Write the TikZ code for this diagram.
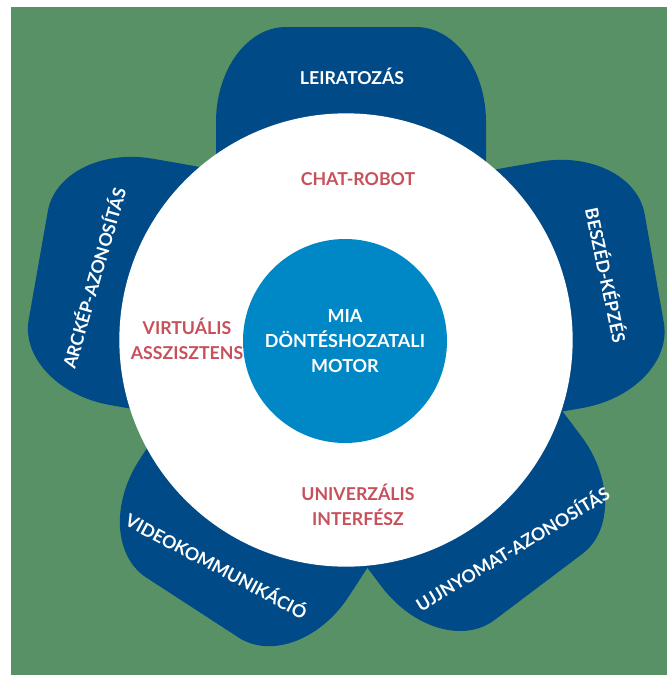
\documentclass[tikz,border=0pt]{standalone}
\usepackage{fontspec}
\setmainfont{Lato}
\definecolor{bggreen}{RGB}{89,145,102}
\definecolor{petalblue}{RGB}{0,74,135}
\definecolor{coreblue}{RGB}{0,136,198}
\definecolor{ringred}{RGB}{200,80,90}

\tikzset{every picture/.style={line width=0.75pt}}
\tikzset{
  petal/.style={fill=petalblue, draw=none},
  petallabel/.style={text=white, inner sep=0.75pt, font=\bfseries\fontsize{13.3}{18.75}\selectfont},
  ringlabel/.style={text=ringred, inner sep=0.75pt, align=center, font=\bfseries\fontsize{13.3}{18.75}\selectfont},
}

\begin{document}
\begin{tikzpicture}[x=0.75pt,y=0.75pt,yscale=-1,xscale=1]
	\useasboundingbox (0,0) rectangle (667,675);
	
	%Background
	\fill[bggreen] (11,7) rectangle (667,675);
	
	%Petal: top
	\begin{scope}[shift={(346,340)}, rotate=-90]
		\fill[petal] (0,-130) -- (218,-130) arc[start angle=-90, end angle=0, x radius=95, y radius=70]
			-- (313,70) arc[start angle=0, end angle=90, x radius=95, y radius=70] -- (0,140) -- cycle;
	\end{scope}
	%Petal: right
	\begin{scope}[shift={(346,340)}, rotate=-10]
		\fill[petal] (0,-142) -- (221,-142) arc[start angle=-90, end angle=0, x radius=95, y radius=70]
			-- (316,38) arc[start angle=0, end angle=90, x radius=95, y radius=70] -- (0,108) -- cycle;
	\end{scope}
	%Petal: bottom right
	\begin{scope}[shift={(346,340)}, rotate=53]
		\fill[petal] (0,-130) -- (218,-130) arc[start angle=-90, end angle=0, x radius=95, y radius=70]
			-- (313,50) arc[start angle=0, end angle=90, x radius=95, y radius=70] -- (0,120) -- cycle;
	\end{scope}
	%Petal: bottom left
	\begin{scope}[shift={(346,340)}, rotate=123]
		\fill[petal] (0,-142) -- (213,-142) arc[start angle=-90, end angle=0, x radius=95, y radius=70]
			-- (308,38) arc[start angle=0, end angle=90, x radius=95, y radius=70] -- (0,108) -- cycle;
	\end{scope}
	%Petal: left
	\begin{scope}[shift={(346,340)}, rotate=-170]
		\fill[petal] (0,-105) -- (221,-105) arc[start angle=-90, end angle=0, x radius=95, y radius=70]
			-- (316,75) arc[start angle=0, end angle=90, x radius=95, y radius=70] -- (0,145) -- cycle;
	\end{scope}
	
	%Ring and core
	\node[circle, fill=white, minimum size=340pt, inner sep=0pt] (ring) at (346,340) {};
	\node[circle, fill=coreblue, minimum size=153pt, inner sep=0pt, text=white, align=center,
	      font=\bfseries\fontsize{13.5}{18.75}\selectfont] (core) at (345,341) {MIA\\DÖNTÉSHOZATALI\\MOTOR};
	
	% Ring labels
	\node[ringlabel] (chat) at (358,179) {CHAT-ROBOT};
	\node[ringlabel] (virt) at (187,339) {VIRTUÁLIS\\ASSZISZTENS};
	\node[ringlabel] (univ) at (358,505) {UNIVERZÁLIS\\INTERFÉSZ};
	
	% Petal labels
	\node[petallabel] (leir) at (352,76) {LEIRATOZÁS};
	\node[petallabel, rotate=-78] (besz) at (607,275) {BESZÉD-KÉPZÉS};
	\node[petallabel, rotate=31] (ujj) at (512,548) {UJJNYOMAT-AZONOSÍTÁS};
	\node[petallabel, rotate=-28] (video) at (217,565) {VIDEOKOMMUNIKÁCIÓ};
	\node[petallabel, rotate=74] (arck) at (93,278) {ARCKÉP-AZONOSÍTÁS};
	
\end{tikzpicture}
\end{document}
